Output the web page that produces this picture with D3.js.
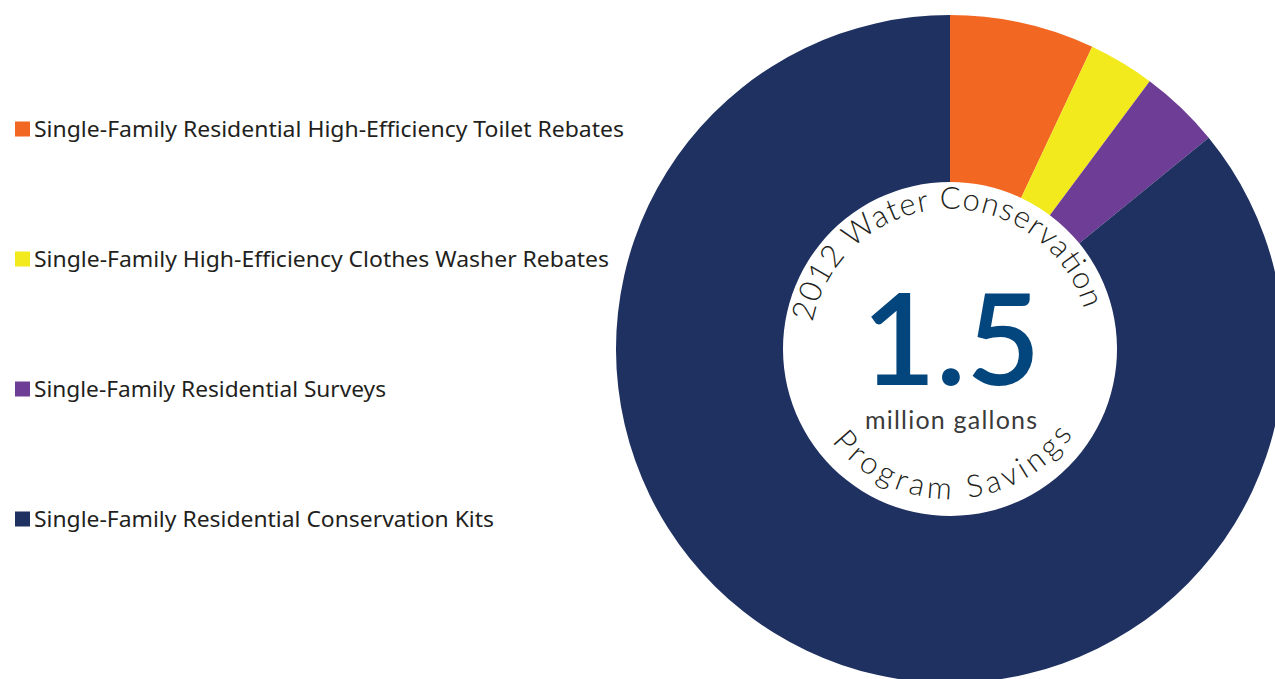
<!DOCTYPE html>
<meta charset="utf-8">
<title>2012 Water Conservation Program Savings</title>
<script src="https://d3js.org/d3.v7.min.js"></script>
<style>
  body { margin: 0; background: #fff; }
</style>
<div id="chart"></div>
<script>
  // program shares of the 1.5 million gallons (percent)
  const programs = [
    "Single-Family Residential High-Efficiency Toilet Rebates",
    "Single-Family High-Efficiency Clothes Washer Rebates",
    "Single-Family Residential Surveys",
    "Single-Family Residential Conservation Kits"
  ];
  const shares = [7.0, 3.2, 3.9, 85.9];
  const colors = ["#f26722", "#f2ea1c", "#6e3d96", "#1f3160"];
  const legendWidths = [590, 575, 352, 460];

  const width = 1275, height = 679;
  const cx = 950, cy = 349, outerR = 334, innerR = 167;

  const svg = d3.select("#chart")
    .append("svg")
    .attr("width", width)
    .attr("height", height);

  const data = programs.map((p, i) => ({ name: p, value: shares[i], color: colors[i] }));

  const pie = d3.pie().sort(null).value(d => d.value);
  const arc = d3.arc().innerRadius(innerR).outerRadius(outerR);

  const ring = svg.append("g")
    .attr("transform", `translate(${cx},${cy})`);

  ring.selectAll("path.slice")
    .data(pie(data))
    .join("path")
    .attr("class", "slice")
    .attr("d", arc)
    .attr("fill", d => d.data.color);

  // legend
  const legendY = d3.scalePoint()
    .domain(programs)
    .range([129, 519]);

  const legend = svg.append("g");
  legend.selectAll("rect")
    .data(data)
    .join("rect")
    .attr("x", 15)
    .attr("y", d => legendY(d.name) - 7.5)
    .attr("width", 15)
    .attr("height", 15)
    .attr("fill", d => d.color);

  legend.selectAll("text")
    .data(data)
    .join("text")
    .attr("x", 34)
    .attr("y", d => legendY(d.name))
    .attr("dy", "0.36em")
    .attr("textLength", (d, i) => legendWidths[i])
    .attr("lengthAdjust", "spacingAndGlyphs")
    .style("font-family", "'Noto Sans', sans-serif")
    .style("font-size", "21px")
    .style("fill", "#231f20")
    .text(d => d.name);

  // centre label
  const center = svg.append("g")
    .attr("transform", `translate(${cx},${cy})`);

  const defs = svg.append("defs");
  const rTop = 140, rBot = 150;
  const a1 = -79 * Math.PI / 180, a2 = 76 * Math.PI / 180;
  defs.append("path")
    .attr("id", "topArc")
    .attr("d", `M${rTop * Math.sin(a1)},${-rTop * Math.cos(a1)} A${rTop},${rTop} 0 0 1 ${rTop * Math.sin(a2)},${-rTop * Math.cos(a2)}`);
  const b1 = 232 * Math.PI / 180, b2 = 124 * Math.PI / 180;
  defs.append("path")
    .attr("id", "botArc")
    .attr("d", `M${rBot * Math.sin(b1)},${-rBot * Math.cos(b1)} A${rBot},${rBot} 0 0 0 ${rBot * Math.sin(b2)},${-rBot * Math.cos(b2)}`);

  center.append("text")
    .style("font-family", "Lato, sans-serif")
    .style("font-weight", 300)
    .style("font-size", "31px")
    .style("fill", "#231f20")
    .append("textPath")
    .attr("href", "#topArc")
    .attr("textLength", 372)
    .attr("lengthAdjust", "spacing")
    .text("2012 Water Conservation");

  center.append("text")
    .style("font-family", "Lato, sans-serif")
    .style("font-weight", 300)
    .style("font-size", "31px")
    .style("fill", "#231f20")
    .append("textPath")
    .attr("href", "#botArc")
    .attr("textLength", 280)
    .attr("lengthAdjust", "spacing")
    .text("Program Savings");

  center.append("text")
    .attr("x", 1)
    .attr("y", 36)
    .attr("text-anchor", "middle")
    .style("font-family", "Lato, sans-serif")
    .style("font-weight", 600)
    .style("font-size", "128px")
    .style("fill", "#03467d")
    .text("1.5");

  center.append("text")
    .attr("x", 1)
    .attr("y", 80)
    .attr("text-anchor", "middle")
    .attr("textLength", 172)
    .attr("lengthAdjust", "spacing")
    .style("font-family", "Lato, sans-serif")
    .style("font-weight", 400)
    .style("font-size", "25px")
    .style("fill", "#3a3a3a")
    .text("million gallons");
</script>
